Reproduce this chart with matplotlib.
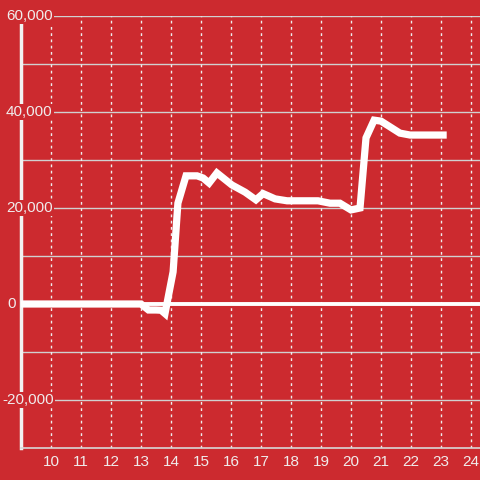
import matplotlib
matplotlib.use("Agg")
import matplotlib.pyplot as plt
from matplotlib.transforms import blended_transform_factory

# data
hours = [9.0, 13.0, 13.25, 13.5, 13.67, 13.8, 14.07, 14.23, 14.5, 14.87, 15.07, 15.27, 15.53,
         16.03, 16.47, 16.83, 17.07, 17.47, 17.87, 18.9, 19.3, 19.63, 20.0, 20.3, 20.5,
         20.77, 21.0, 21.63, 21.97, 23.07]
values = [0, 0, -1250, -1250, -1300, -2000, 6700, 21000, 26700, 26700, 26250, 25200, 27300,
          24800, 23300, 21700, 23000, 21900, 21500, 21500, 21000, 21000, 19600, 20000, 34600,
          38300, 38100, 35600, 35200, 35200]
x_ticks = list(range(10, 25))
y_label_vals = [-20000, 0, 20000, 40000, 60000]
y_grid_vals = list(range(-20000, 60001, 10000))

BG = "#CC2A2F"
TXT = "#F0ECEC"
FONT = "Liberation Sans"

fig = plt.figure(figsize=(4.8, 4.8), dpi=100, facecolor=BG)
ax = fig.add_axes([21/480, 32/480, 459/480, 432/480])
ax.set_facecolor(BG)
ax.set_xlim(9, 9 + 459/30)
ax.set_ylim(-30000, 60000)

for s in ["top", "right"]:
    ax.spines[s].set_visible(False)
ax.spines["left"].set_color("#F2F2F2")
ax.spines["left"].set_linewidth(2.5)
ax.spines["bottom"].set_color("#D8D8D8")
ax.spines["bottom"].set_linewidth(1.2)

# grid
for v in y_grid_vals:
    if v != 0:
        ax.axhline(v, color="#D0D0D0", lw=1.0, zorder=1)
for xv in x_ticks:
    ax.axvline(xv, color="#EEEEEE", lw=1.0, ls=(0, (2, 2.5)), zorder=1)
ax.axhline(0, color="white", lw=2.8, zorder=2)

ax.plot(hours, values, color="white", lw=5.2, zorder=3, solid_joinstyle="miter")

ax.set_yticks([])
ax.set_xticks(x_ticks)
ax.set_xticklabels([str(t) for t in x_ticks], color=TXT, fontsize=11, fontfamily=FONT)
ax.tick_params(axis="x", length=0, pad=5)

trans = blended_transform_factory(fig.transFigure, ax.transData)
for v in y_label_vals:
    if v < 0:
        xpx = 2
    elif v == 0:
        xpx = 7.5
    else:
        xpx = 6
    ax.text(xpx/480, v, f"{v:,}", transform=trans, ha="left", va="center",
            color=TXT, fontsize=11, fontfamily=FONT, zorder=10,
            clip_on=False,
            bbox=dict(facecolor=BG, edgecolor="none", pad=0.8))

fig.savefig("out.png", dpi=100, facecolor=BG)
